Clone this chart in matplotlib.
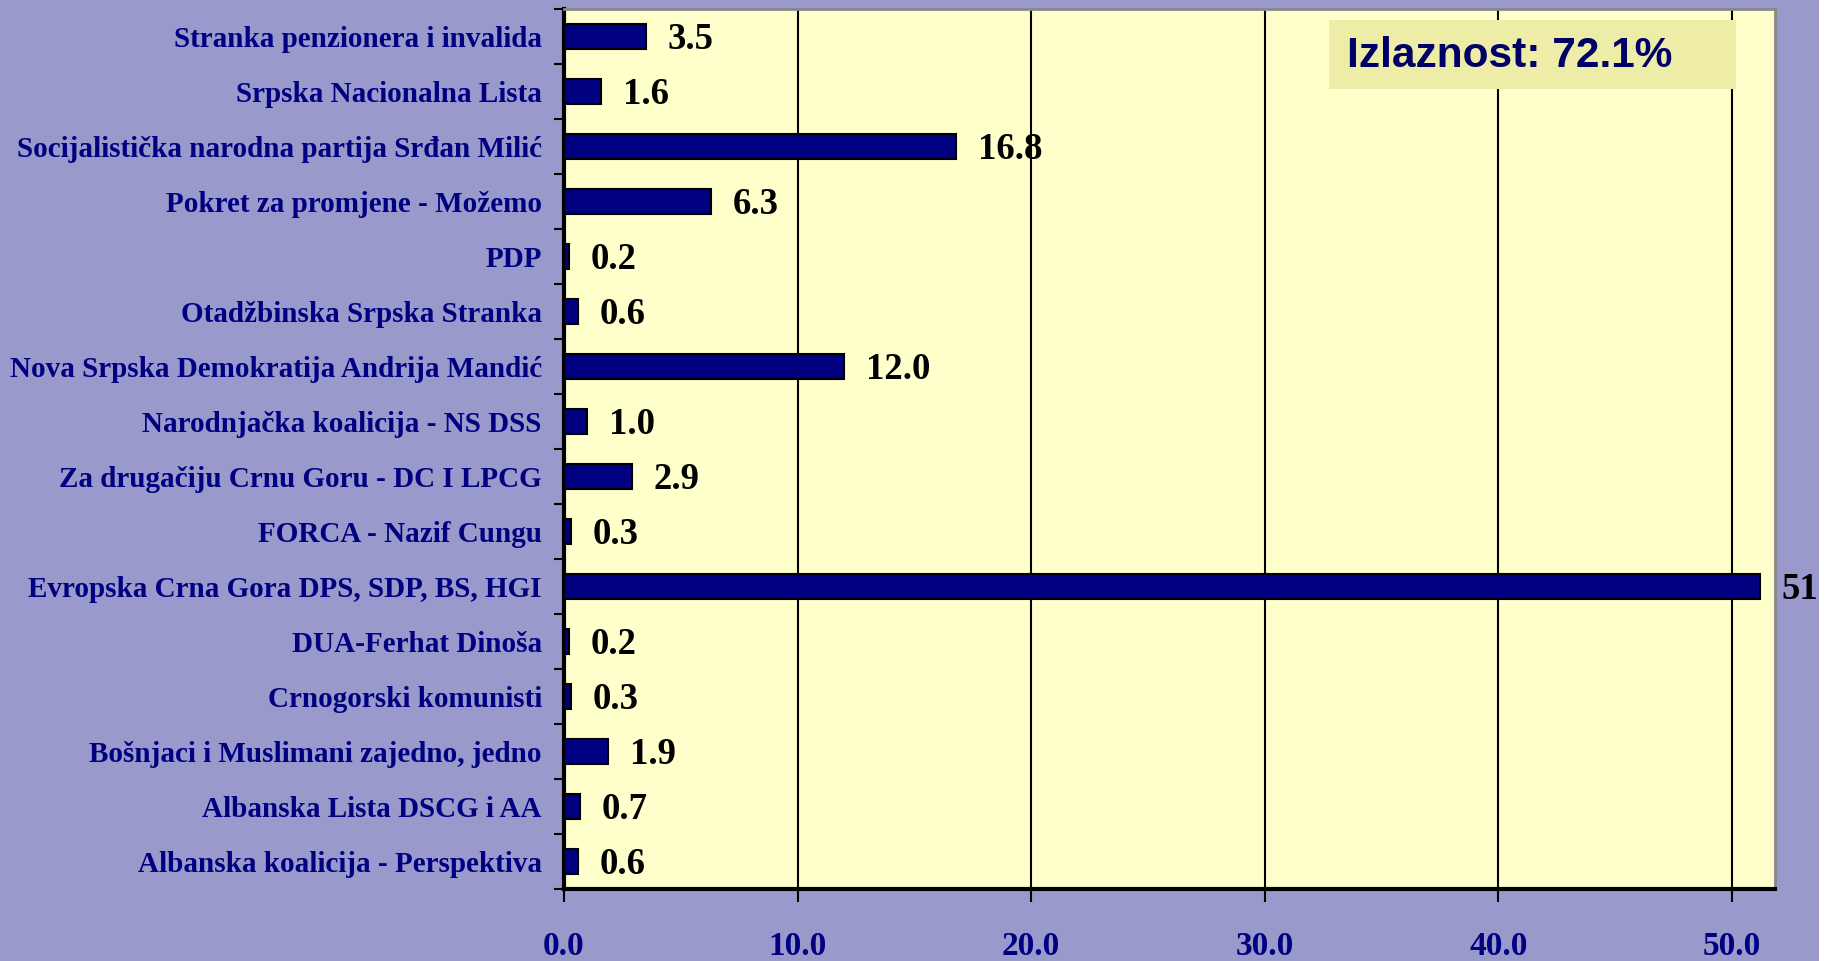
import matplotlib
matplotlib.use("Agg")
import matplotlib.pyplot as plt
from matplotlib.patches import Rectangle

# stranke, odozgo prema dolje
stranke = [
    "Stranka penzionera i invalida",
    "Srpska Nacionalna Lista",
    "Socijalistička narodna partija Srđan Milić",
    "Pokret za promjene - Možemo",
    "PDP",
    "Otadžbinska Srpska Stranka",
    "Nova Srpska Demokratija Andrija Mandić",
    "Narodnjačka koalicija - NS DSS",
    "Za drugačiju Crnu Goru - DC I LPCG",
    "FORCA - Nazif Cungu",
    "Evropska Crna Gora DPS, SDP, BS, HGI",
    "DUA-Ferhat Dinoša",
    "Crnogorski komunisti",
    "Bošnjaci i Muslimani zajedno, jedno",
    "Albanska Lista DSCG i AA",
    "Albanska koalicija - Perspektiva",
]
procenti = [3.5, 1.6, 16.8, 6.3, 0.2, 0.6, 12.0, 1.0, 2.9, 0.3, 51.2, 0.2, 0.3, 1.9, 0.7, 0.6]
x_ticks = [0, 10, 20, 30, 40, 50]
izlaznost = "Izlaznost: 72.1%"

navy = "#000080"
serif = ["Liberation Serif", "DejaVu Serif"]
W, H = 1836, 961

fig = plt.figure(figsize=(W / 100, H / 100), dpi=100, facecolor="#9999CC")
ax = fig.add_axes([564 / W, 1 - 889 / H, (1775 - 564) / W, (889 - 9) / H])
ax.set_facecolor("#FFFFCC")

y = list(range(len(stranke)))
ax.barh(y, procenti, height=0.44, color=navy, edgecolor="black", linewidth=1.5, zorder=3)

for yi, v in zip(y, procenti):
    ax.annotate(f"{v:.1f}", (v, yi), xytext=(15.5, -2), textcoords="offset points",
                va="center", ha="left", fontsize=26.5, fontweight="bold",
                family=serif, color="black", annotation_clip=False)

ax.set_xlim(0, 51.85)
ax.set_ylim(len(stranke) - 0.5, -0.5)

ax.set_xticks(x_ticks)
ax.set_xticklabels([f"{t:.1f}" for t in x_ticks], fontsize=24, fontweight="bold",
                   family=serif, color=navy)
ax.tick_params(axis="x", direction="out", length=9, width=1.5, pad=21, color="black")
ax.xaxis.grid(True, color="black", linewidth=1.5, zorder=1)
ax.set_axisbelow(True)

ax.set_yticks(y)
ax.set_yticklabels(stranke, fontsize=21, fontweight="bold", family=serif, color=navy)
ax.tick_params(axis="y", which="major", length=0, pad=16)
ax.set_yticks([i - 0.5 for i in range(len(stranke) + 1)], minor=True)
ax.tick_params(axis="y", which="minor", direction="out", length=7, width=1.5, color="black")

for side in ["left", "bottom"]:
    ax.spines[side].set_linewidth(3)
    ax.spines[side].set_color("black")
for side in ["top", "right"]:
    ax.spines[side].set_linewidth(2)
    ax.spines[side].set_color("#888888")

# kutija sa izlaznoscu
fig.add_artist(Rectangle((1329 / W, 1 - 89 / H), (1736 - 1329) / W, 69 / H,
                         transform=fig.transFigure, facecolor="#EDEDA8",
                         edgecolor="none", zorder=5))
fig.text(1347 / W, 1 - 56 / H, izlaznost, ha="left", va="center",
         fontsize=30.5, fontweight="bold", family=["Liberation Sans", "DejaVu Sans"],
         color="#000066", zorder=6)

# bijela traka na desnom rubu
fig.add_artist(Rectangle((1819 / W, 0), 1, 1, transform=fig.transFigure,
                         facecolor="white", edgecolor="none", zorder=10))

fig.savefig("out.png", dpi=100, facecolor=fig.get_facecolor())
